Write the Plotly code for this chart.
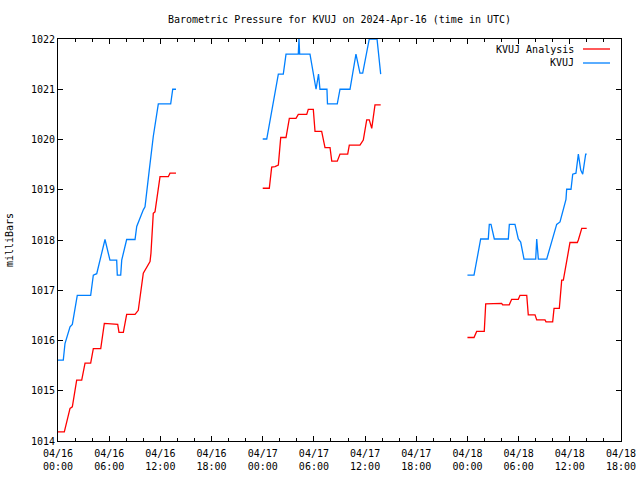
import plotly.graph_objects as go

# Hours since 2024-04-16 00:00 UTC; None separates gaps
analysis_hours = [0.0, 0.74, 1.41, 1.68, 2.19, 2.78, 3.17, 3.83, 4.14, 5.01, 5.43, 7.0, 7.15, 7.66, 8.05, 9.03,
                  9.41, 10.0, 10.79, 10.9, 11.17, 11.37, 11.96, 12.93, 13.13, 13.83, None,
                  24.0, 24.77, 25.05, 25.44, 25.83, 26.11, 26.73, 27.12, 27.9, 28.17, 29.16, 29.34, 29.93, 30.13,
                  30.91, 31.3, 31.89, 32.09, 32.74, 33.06, 33.96, 34.15, 35.4, 35.79, 36.19, 36.49, 36.78, 37.16,
                  37.83, None,
                  48.0, 48.77, 49.08, 49.97, 50.14, 52.01, 52.13, 52.9, 53.18, 53.96, 54.16, 54.95, 55.13, 55.92,
                  56.12, 57.09, 57.21, 57.99, 58.15, 58.77, 59.05, 59.24, 60.02, 60.88, 61.0, 61.4, 61.98]
analysis_mb = [1014.18, 1014.18, 1014.65, 1014.68, 1015.21, 1015.21, 1015.55, 1015.55, 1015.84, 1015.84, 1016.34,
               1016.32, 1016.16, 1016.16, 1016.52, 1016.52, 1016.60, 1017.34, 1017.57, 1017.74, 1018.53, 1018.56,
               1019.26, 1019.26, 1019.33, 1019.33, None,
               1019.03, 1019.03, 1019.45, 1019.46, 1019.49, 1020.04, 1020.04, 1020.42, 1020.42, 1020.50, 1020.50,
               1020.6, 1020.6, 1020.16, 1020.16, 1019.84, 1019.84, 1019.57, 1019.57, 1019.71, 1019.71, 1019.89,
               1019.89, 1019.99, 1020.39, 1020.39, 1020.22, 1020.69, 1020.69, None,
               1016.06, 1016.06, 1016.18, 1016.18, 1016.73, 1016.74, 1016.71, 1016.71, 1016.82, 1016.82, 1016.9,
               1016.9, 1016.51, 1016.51, 1016.41, 1016.41, 1016.37, 1016.37, 1016.64, 1016.64, 1017.2, 1017.2,
               1017.95, 1017.95, 1018.0, 1018.23, 1018.23]

obs_hours = [0.0, 0.62, 0.82, 1.41, 1.68, 2.26, 3.83, 4.14, 4.54, 5.43, 5.51, 6.09, 6.88, 6.95, 7.35, 7.47, 8.05,
             9.03, 9.23, 10.0, 10.2, 10.7, 11.17, 11.76, 13.21, 13.45, 13.83, None,
             24.0, 24.47, 25.83, 26.41, 26.73, 28.17, 28.25, 28.33, 29.54, 29.74, 29.93, 30.25, 30.54, 30.71,
             31.53, 31.59, 32.74, 33.06, 34.23, 34.93, 35.4, 35.72, 36.49, 37.40, 37.83, None,
             48.0, 48.77, 49.55, 50.44, 50.56, 50.76, 51.15, 52.79, 52.91, 53.57, 53.96, 54.24, 54.63, 56.0,
             56.12, 56.31, 57.29, 58.46, 58.85, 59.55, 59.63, 60.14, 60.34, 60.72, 61.0, 61.28, 61.51, 61.86, 61.98]
obs_mb = [1015.61, 1015.61, 1015.94, 1016.27, 1016.32, 1016.9, 1016.9, 1017.30, 1017.33, 1018.01, 1018.01, 1017.6,
          1017.6, 1017.30, 1017.30, 1017.6, 1018.01, 1018.01, 1018.27, 1018.6, 1018.66, 1019.39, 1020.06, 1020.71,
          1020.71, 1021.0, 1021.0, None,
          1020.01, 1020.01, 1021.30, 1021.30, 1021.70, 1021.70, 1022.0, 1021.70, 1021.70, 1021.52, 1021.32,
          1021.0, 1021.3, 1021.0, 1021.0, 1020.71, 1020.71, 1021.0, 1021.0, 1021.70, 1021.32, 1021.32, 1022.0,
          1022.0, 1021.3, None,
          1017.30, 1017.30, 1018.02, 1018.02, 1018.31, 1018.31, 1018.02, 1018.02, 1018.31, 1018.31, 1018.02,
          1017.96, 1017.62, 1017.62, 1018.02, 1017.62, 1017.62, 1018.31, 1018.36, 1018.81, 1019.01, 1019.01,
          1019.31, 1019.33, 1019.71, 1019.39, 1019.31, 1019.71, 1019.71]

x_tick_hours = [0, 6, 12, 18, 24, 30, 36, 42, 48, 54, 60, 66]
x_tick_labels = ["04/16<br>00:00", "04/16<br>06:00", "04/16<br>12:00", "04/16<br>18:00",
                 "04/17<br>00:00", "04/17<br>06:00", "04/17<br>12:00", "04/17<br>18:00",
                 "04/18<br>00:00", "04/18<br>06:00", "04/18<br>12:00", "04/18<br>18:00"]
y_ticks = [1014, 1015, 1016, 1017, 1018, 1019, 1020, 1021, 1022]

series_names = ["KVUJ Analysis", "KVUJ"]
series_colors = ["#ff0000", "#0080ff"]

FONT = "DejaVu Sans Mono"

fig = go.Figure()
fig.add_trace(go.Scatter(x=analysis_hours, y=analysis_mb, mode="lines", name=series_names[0],
                         line=dict(color=series_colors[0], width=1.3), connectgaps=False))
fig.add_trace(go.Scatter(x=obs_hours, y=obs_mb, mode="lines", name=series_names[1],
                         line=dict(color=series_colors[1], width=1.3), connectgaps=False))

# gnuplot-style legend: text then line sample, top-right inside plot
for i, (nm, col) in enumerate(zip(series_names, series_colors)):
    yp = 1 - (10 + 14 * i) / 402
    fig.add_annotation(xref="paper", yref="paper", x=(576 - 58) / 563, y=yp, text=nm, showarrow=False,
                       xanchor="right", yanchor="middle", font=dict(family=FONT, size=10, color="black"))
    fig.add_shape(type="line", xref="paper", yref="paper", x0=(583 - 58) / 563, x1=(610 - 58) / 563,
                  y0=yp, y1=yp, line=dict(color=col, width=1.3))

axis_common = dict(showline=True, linecolor="black", linewidth=1, mirror="ticks", ticks="inside",
                   tickcolor="black", showgrid=False, zeroline=False, automargin=False,
                   tickfont=dict(family=FONT, size=10, color="black"))

fig.update_xaxes(range=[0, 66], tickmode="array", tickvals=x_tick_hours, ticktext=x_tick_labels,
                 ticklen=5, ticklabelstandoff=3,
                 minor=dict(dtick=2, tick0=0, ticks="inside", ticklen=3, tickcolor="black"),
                 **axis_common)
fig.update_yaxes(range=[1014, 1022], tickmode="array", tickvals=y_ticks, ticktext=[str(v) for v in y_ticks],
                 ticklen=5, title=dict(text="milliBars", font=dict(family=FONT, size=10, color="black"),
                                       standoff=15),
                 **axis_common)

fig.update_layout(
    width=640, height=480,
    margin=dict(l=58, r=19, t=39, b=39),
    paper_bgcolor="white", plot_bgcolor="white",
    showlegend=False,
    title=dict(text="Barometric Pressure for KVUJ on 2024-Apr-16 (time in UTC)",
               x=(58 + 621) / 2 / 640, xanchor="center", y=1 - 19 / 480, yanchor="middle",
               font=dict(family=FONT, size=10, color="black")),
    font=dict(family=FONT, size=10, color="black"),
)

fig.write_html("out.html")
